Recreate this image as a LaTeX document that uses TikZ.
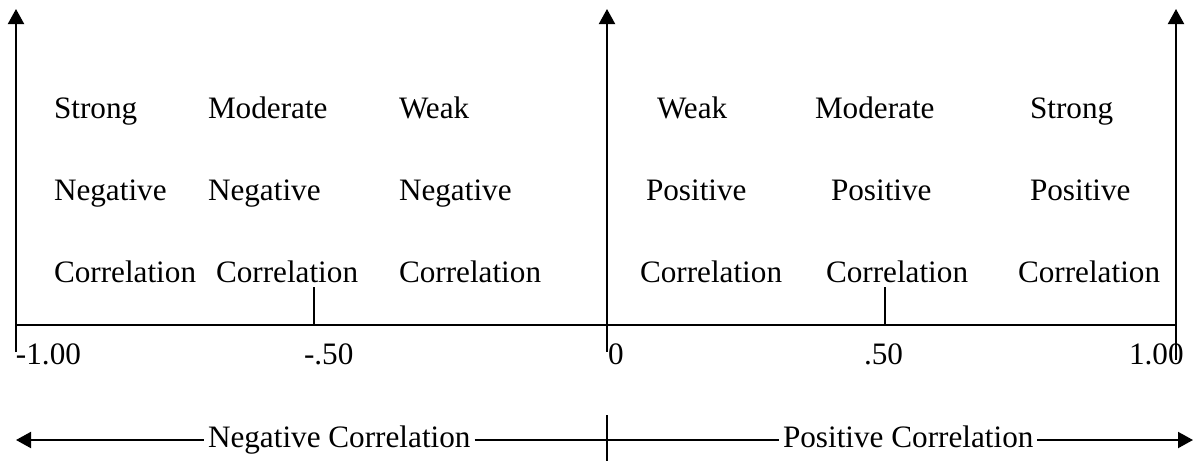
\documentclass[tikz,border=0pt]{standalone}
\usepackage{fontspec}
\setmainfont{Liberation Serif}
\usetikzlibrary{arrows.meta}
\begin{document}
\begin{tikzpicture}[x=1pt,y=-1pt,line width=2pt,
  lbl/.style={anchor=base west,inner sep=0pt,font=\fontsize{31.2pt}{36pt}\selectfont},
  blbl/.style={anchor=west,inner xsep=3pt,inner ysep=0pt,text height=21pt,text depth=7pt,font=\fontsize{31.2pt}{36pt}\selectfont},
  tip/.style={-{Triangle[width=16pt,length=15pt]}},
  rtip/.style={{Triangle[width=16pt,length=15pt]}-}]
\useasboundingbox (0,0) rectangle (1195,461);
% axis and verticals
\coordinate (Lt) at (16,9);   \coordinate (Lb) at (16,352);
\coordinate (Mt) at (607,9);  \coordinate (Mb) at (607,352);
\coordinate (Rt) at (1176,9); \coordinate (Rb) at (1176,360);
\coordinate (AL) at (16,325); \coordinate (AR) at (1176,325);
\coordinate (T1a) at (314,287); \coordinate (T1b) at (314,325);
\coordinate (T2a) at (885,287); \coordinate (T2b) at (885,325);
\draw[tip] (Lb) -- (Lt);
\draw[tip] (Mb) -- (Mt);
\draw[tip] (Rb) -- (Rt);
\draw (AL) -- (AR);
\draw (T1a) -- (T1b);
\draw (T2a) -- (T2b);
% category labels
\node[lbl] (s1) at (53,118) {Strong};
\node[lbl] (s2) at (53,200) {Negative};
\node[lbl] (s3) at (53,282) {Correlation};
\node[lbl] (m1) at (207,118) {Moderate};
\node[lbl] (m2) at (207,200) {Negative};
\node[lbl] (m3) at (215,282) {Correlation};
\node[lbl] (w1) at (398,118) {Weak};
\node[lbl] (w2) at (398,200) {Negative};
\node[lbl] (w3) at (398,282) {Correlation};
\node[lbl] (pw1) at (656,118) {Weak};
\node[lbl] (pw2) at (645,200) {Positive};
\node[lbl] (pw3) at (639,282) {Correlation};
\node[lbl] (pm1) at (814,118) {Moderate};
\node[lbl] (pm2) at (830,200) {Positive};
\node[lbl] (pm3) at (825,282) {Correlation};
\node[lbl] (ps1) at (1029,118) {Strong};
\node[lbl] (ps2) at (1029,200) {Positive};
\node[lbl] (ps3) at (1017,282) {Correlation};
% numbers
\node[lbl] (n1) at (15,364) {-1.00};
\node[lbl] (n2) at (303,364) {-.50};
\node[lbl] (n3) at (607,364) {0};
\node[lbl] (n4) at (863,364) {.50};
\node[lbl] (n5) at (1128,364) {1.00};
% bottom arrow
\coordinate (BL) at (16,440);
\coordinate (BR) at (1193,440);
\coordinate (BMt) at (607,415);
\coordinate (BMb) at (607,461);
\node[blbl] (neg) at (204,440) {Negative Correlation};
\node[blbl] (pos) at (779,440) {Positive Correlation};
\draw[rtip] (BL) -- (neg.west);
\draw (neg.east) -- (pos.west);
\draw[tip] (pos.east) -- (BR);
\draw (BMt) -- (BMb);
\end{tikzpicture}
\end{document}
